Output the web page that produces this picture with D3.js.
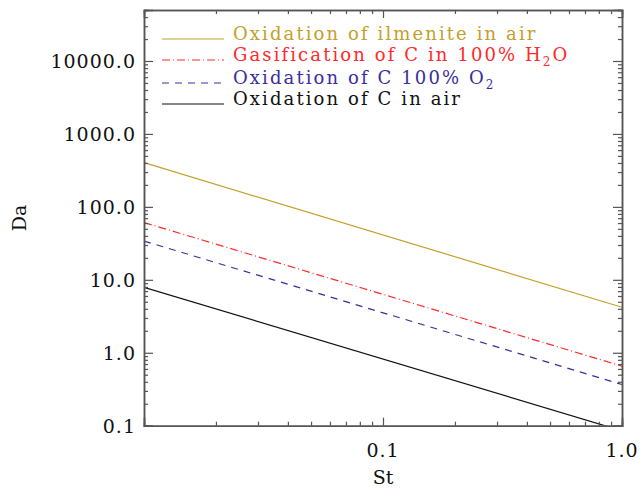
<!DOCTYPE html>
<html>
<head>
<meta charset="utf-8">
<script src="https://cdn.jsdelivr.net/npm/d3@7"></script>
<style>
  body { margin: 0; background: #fff; }
  text { font-family: "DejaVu Serif", serif; }
</style>
</head>
<body>
<div id="chart"></div>
<script>
const St = [0.01, 1.0];
const daIlmeniteAir = [404, 4.2];
const daGasH2O = [61, 0.655];
const daOxO2 = [34, 0.367];
const daOxAir = [7.9, 0.085];

const yMajor = [0.1, 1, 10, 100, 1000, 10000];
const xMajor = [0.01, 0.1, 1];
const xLabels = [0.1, 1.0];

const series = [
  { name: "Oxidation of ilmenite in air", values: daIlmeniteAir, color: "#c4a02a", dash: null },
  { name: "Gasification of C in 100% H|2|O", values: daGasH2O, color: "#ff2a2a", dash: "8,3,1,3" },
  { name: "Oxidation of C 100% O|2|", values: daOxO2, color: "#3a2e9e", dash: "7,6" },
  { name: "Oxidation of C in air", values: daOxAir, color: "#111", dash: null }
];

const W = 640, H = 489;
const m = { left: 144, right: 622, top: 10, bottom: 425.7 };

const svg = d3.select("#chart").append("svg")
  .attr("width", W)
  .attr("height", H);

const x = d3.scaleLog().domain([0.01, 1]).range([m.left, m.right]);
const y = d3.scaleLog().domain([0.1, 50000]).range([m.bottom, m.top]);

svg.append("clipPath").attr("id", "clip")
  .append("rect")
  .attr("x", m.left).attr("y", m.top)
  .attr("width", m.right - m.left).attr("height", m.bottom - m.top);

// data lines
const line = d3.line().x(d => x(d[0])).y(d => y(d[1]));
series.forEach(s => {
  svg.append("path")
    .datum(St.map((v, i) => [v, s.values[i]]))
    .attr("clip-path", "url(#clip)")
    .attr("d", line)
    .attr("fill", "none")
    .attr("stroke", s.color)
    .attr("stroke-width", 1.2)
    .attr("stroke-dasharray", s.dash);
});

// minor tick values
const yMinor = [];
yMajor.forEach(v => { for (let k = 2; k <= 9; k++) if (v * k <= 50000) yMinor.push(v * k); });
const xMinor = [];
xMajor.slice(0, 2).forEach(v => { for (let k = 2; k <= 9; k++) xMinor.push(v * k); });

const axisColor = "#555";
const fmt = d3.format(".1f");

// frame axes: major + minor ticks on all four sides, pointing inward
const axes = [
  [d3.axisRight(y).tickValues(yMajor).tickSize(9), `translate(${m.left},0)`],
  [d3.axisRight(y).tickValues(yMinor).tickSize(4), `translate(${m.left},0)`],
  [d3.axisLeft(y).tickValues(yMajor).tickSize(9), `translate(${m.right},0)`],
  [d3.axisLeft(y).tickValues(yMinor).tickSize(4), `translate(${m.right},0)`],
  [d3.axisTop(x).tickValues(xMajor).tickSize(8), `translate(0,${m.bottom})`],
  [d3.axisTop(x).tickValues(xMinor).tickSize(4), `translate(0,${m.bottom})`],
  [d3.axisBottom(x).tickValues(xMajor).tickSize(8), `translate(0,${m.top})`],
  [d3.axisBottom(x).tickValues(xMinor).tickSize(4), `translate(0,${m.top})`]
];
axes.forEach(([ax, tr]) => {
  const g = svg.append("g").attr("transform", tr).call(ax.tickFormat(""));
  g.selectAll(".domain").attr("stroke", axisColor).attr("stroke-width", 1.5);
  g.selectAll(".tick line").attr("stroke", axisColor).attr("stroke-width", 1.2);
});

// tick labels
svg.selectAll(".ylab")
  .data(yMajor)
  .enter().append("text")
  .attr("x", m.left - 8)
  .attr("y", d => y(d) + 7)
  .attr("text-anchor", "end")
  .style("font-size", "19px")
  .style("letter-spacing", "1px")
  .attr("fill", "#111")
  .text(d => fmt(d));

svg.selectAll(".xlab")
  .data(xLabels)
  .enter().append("text")
  .attr("x", d => x(d))
  .attr("y", 457)
  .attr("text-anchor", "middle")
  .style("font-size", "19px")
  .style("letter-spacing", "1px")
  .attr("fill", "#111")
  .text(d => fmt(d));

// axis titles
svg.append("text")
  .attr("x", x(0.1))
  .attr("y", 484)
  .attr("text-anchor", "middle")
  .style("font-size", "19px")
  .attr("fill", "#111")
  .text("St");

svg.append("text")
  .attr("transform", `translate(26,${(m.top + m.bottom) / 2}) rotate(-90)`)
  .attr("text-anchor", "middle")
  .style("font-size", "19px")
  .attr("fill", "#111")
  .text("Da");

// legend
const legendY = [39, 60, 83, 104];
series.forEach((s, i) => {
  svg.append("line")
    .attr("x1", 162).attr("x2", 224)
    .attr("y1", legendY[i]).attr("y2", legendY[i])
    .attr("stroke", s.color)
    .attr("stroke-width", 1.2)
    .attr("stroke-dasharray", s.dash);
  const t = svg.append("text")
    .attr("x", 233)
    .attr("y", legendY[i] + 1)
    .style("font-size", "18px")
    .style("letter-spacing", "2.1px")
    .attr("fill", s.color);
  const parts = s.name.split("|");
  parts.forEach((p, j) => {
    if (!p) return;
    if (j % 2 === 1) {
      t.append("tspan").attr("dy", 5).style("font-size", "12px").text(p);
    } else {
      t.append("tspan").attr("dy", j > 0 ? -5 : 0).text(p);
    }
  });
});
</script>
</body>
</html>
